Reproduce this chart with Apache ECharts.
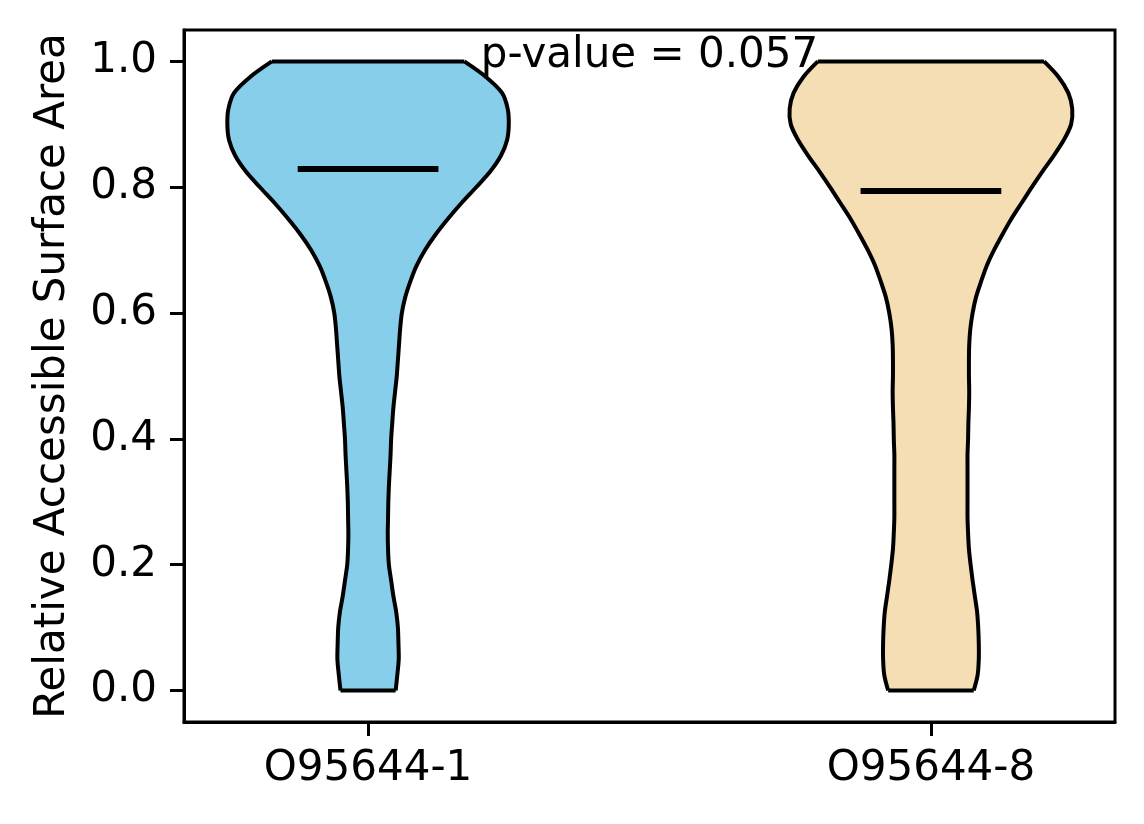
<!DOCTYPE html>
<html><head><meta charset="utf-8">
<script src="https://cdn.jsdelivr.net/npm/echarts@6/dist/echarts.min.js"></script>
<style>html,body{margin:0;padding:0;background:#fff}#c{width:1144px;height:824px}</style>
</head><body><div id="c"></div>
<script>
const categories = ['O95644-1', 'O95644-8'];
const positions = [1, 2];
const kdeY = [0.000, 0.025, 0.050, 0.075, 0.100, 0.125, 0.150, 0.175, 0.200, 0.225,
              0.250, 0.275, 0.300, 0.325, 0.350, 0.375, 0.400, 0.425, 0.450, 0.475,
              0.500, 0.525, 0.550, 0.575, 0.600, 0.625, 0.650, 0.675, 0.700, 0.725,
              0.750, 0.775, 0.800, 0.825, 0.850, 0.875, 0.900, 0.925, 0.950, 0.975, 1.000];
const halfWidth1 = [0.049, 0.052, 0.0545, 0.054, 0.053, 0.050, 0.045, 0.041, 0.037, 0.0355,
                    0.035, 0.0355, 0.036, 0.037, 0.0385, 0.040, 0.041, 0.043, 0.045, 0.048,
                    0.051, 0.053, 0.055, 0.057, 0.060, 0.066, 0.075, 0.086, 0.101, 0.120,
                    0.142, 0.166, 0.192, 0.217, 0.236, 0.247, 0.250, 0.248, 0.238, 0.210, 0.171];
const halfWidth2 = [0.076, 0.083, 0.085, 0.085, 0.084, 0.082, 0.078, 0.074, 0.0705, 0.0675,
                    0.066, 0.065, 0.065, 0.065, 0.065, 0.065, 0.066, 0.0665, 0.0675, 0.068,
                    0.0675, 0.0675, 0.068, 0.070, 0.074, 0.080, 0.089, 0.099, 0.112, 0.127,
                    0.143, 0.161, 0.179, 0.198, 0.218, 0.236, 0.249, 0.251, 0.244, 0.227, 0.201];
const means = [0.829, 0.794];
const fillColors = ['#87CEEB', '#F5DEB3'];
const yTicks = [0, 0.2, 0.4, 0.6, 0.8, 1.0];
const pValueLabel = 'p-value = 0.057';
const pValuePos = [1.5, 1.0];

const halfWidths = [halfWidth1, halfWidth2];
const FONT = 'DejaVu Sans';
const FS = 42;

function renderViolin(params, api) {
  const i = params.dataIndex;
  const pos = api.value(0);
  const hw = halfWidths[i];
  const left = [], right = [];
  for (let k = 0; k < kdeY.length; k++) {
    left.push(api.coord([pos - hw[k], kdeY[k]]));
    right.push(api.coord([pos + hw[k], kdeY[k]]));
  }
  const poly = left.concat(right.slice().reverse());
  const n = kdeY.length - 1;
  const m1 = api.coord([pos - 0.125, means[i]]);
  const m2 = api.coord([pos + 0.125, means[i]]);
  const edge = { stroke: '#000', lineWidth: 4, fill: null, lineJoin: 'miter' };
  return {
    type: 'group',
    children: [
      { type: 'polygon', shape: { points: poly }, style: { fill: fillColors[i], stroke: null } },
      { type: 'polyline', shape: { points: left, smooth: 0.3 }, style: edge },
      { type: 'polyline', shape: { points: right, smooth: 0.3 }, style: edge },
      { type: 'line', shape: { x1: left[n][0], y1: left[n][1], x2: right[n][0], y2: right[n][1] }, style: edge },
      { type: 'line', shape: { x1: left[0][0], y1: left[0][1], x2: right[0][0], y2: right[0][1] }, style: edge },
      { type: 'line', shape: { x1: m1[0], y1: m1[1], x2: m2[0], y2: m2[1] }, style: { stroke: '#000', lineWidth: 6 } }
    ]
  };
}

function renderPValue(params, api) {
  const p = api.coord([api.value(0), api.value(1)]);
  return {
    type: 'text',
    x: p[0], y: p[1] - 5,
    style: { text: pValueLabel, font: FS + 'px "DejaVu Sans"', fill: '#000', align: 'center', verticalAlign: 'middle' }
  };
}

const chart = echarts.init(document.getElementById('c'), null, { renderer: 'canvas' });
chart.setOption({
  backgroundColor: '#fff',
  animation: false,
  grid: { left: 184, right: 29, top: 30, bottom: 102, show: true, borderColor: '#000', borderWidth: 3, backgroundColor: 'transparent' },
  xAxis: {
    type: 'value', min: 0.673, max: 2.327,
    splitLine: { show: false },
    axisLine: { show: true, onZero: false, lineStyle: { color: '#000', width: 3 } },
    axisTick: { show: true, length: 14, lineStyle: { color: '#000', width: 3 }, customValues: positions },
    axisLabel: {
      customValues: positions, margin: 26, color: '#000', fontFamily: FONT, fontSize: FS,
      formatter: v => categories[positions.findIndex(p => Math.abs(p - v) < 1e-6)] || ''
    }
  },
  yAxis: {
    type: 'value', min: -0.05, max: 1.05,
    name: 'Relative Accessible Surface Area', nameLocation: 'middle', nameGap: 110,
    nameTextStyle: { color: '#000', fontFamily: FONT, fontSize: FS },
    splitLine: { show: false },
    axisLine: { show: true, onZero: false, lineStyle: { color: '#000', width: 3 } },
    axisTick: { show: true, length: 14, lineStyle: { color: '#000', width: 3 }, customValues: yTicks },
    axisLabel: { customValues: yTicks, margin: 27, color: '#000', fontFamily: FONT, fontSize: FS, formatter: v => v.toFixed(1) }
  },
  series: [
    { type: 'custom', name: 'violins', renderItem: renderViolin, data: positions.map(p => [p]), encode: { x: 0 }, clip: false, z: 2 },
    { type: 'custom', name: 'pvalue', renderItem: renderPValue, data: [pValuePos], encode: { x: 0, y: 1 }, clip: false, z: 3 }
  ]
});
</script></body></html>
